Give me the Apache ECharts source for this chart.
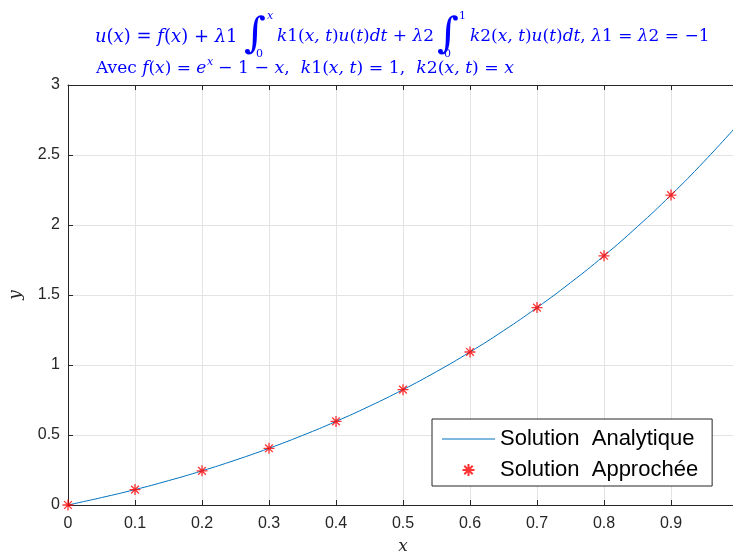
<!DOCTYPE html>
<html><head><meta charset="utf-8">
<script src="https://cdn.jsdelivr.net/npm/echarts@6/dist/echarts.min.js"></script>
<style>html,body{margin:0;padding:0;background:#fff}#c{width:733px;height:553px}</style>
</head><body><div id="c"></div>
<script>
// Data
const lineX = [0,0.05,0.1,0.15,0.2,0.25,0.3,0.35,0.4,0.45,0.5,0.55,0.6,0.65,0.7,0.75,0.8,0.85,0.9,0.95,1.0];
const lineY = [0,0.053,0.110,0.174,0.244,0.321,0.405,0.497,0.597,0.706,0.824,0.953,1.093,1.245,1.410,1.588,1.780,1.989,2.214,2.457,2.718];
const ptsX = [0,0.1,0.2,0.3,0.4,0.5,0.6,0.7,0.8,0.9];
const ptsY = [0,0.110,0.244,0.405,0.597,0.824,1.093,1.410,1.780,2.214];
const seriesNames = ['Solution  Analytique','Solution  Approchée'];

const BLUE = '#0000ff';
const SERIF = '"DejaVu Serif","Liberation Serif",serif';
function mkRich(fs){
  return {
    i:{fontFamily:SERIF,fontStyle:'italic',fontSize:fs,color:BLUE},
    r:{fontFamily:SERIF,fontStyle:'normal',fontSize:fs,color:BLUE}
  };
}
function plain(x,y,text,size,italic){
  return {type:'text',x:x,y:y,style:{text:text,fill:BLUE,fontFamily:SERIF,fontSize:size,fontStyle:italic?'italic':'normal',verticalAlign:'middle',align:'left'}};
}
function rt(x,y,text,fs){
  fs = fs||17;
  return {type:'text',x:x,y:y,style:{text:text,rich:mkRich(fs),fill:BLUE,fontFamily:SERIF,fontSize:fs,verticalAlign:'middle',align:'left'}};
}
const L1 = 37, L2 = 69;
const graphics = [
  rt(95,L1,'{i|u}{r|(}{i|x}{r|) = }{i|f}{r|(}{i|x}{r|) + }{i|λ}{r|1}',18),
  plain(244,36,'∫',42,true),
  plain(267,16,'x',11,true),
  plain(256,54,'0',11,false),
  rt(277,L1,'{i|k}{r|1(}{i|x, t}{r|)}{i|u}{r|(}{i|t}{r|)}{i|dt}{r| + }{i|λ}{r|2}'),
  plain(437,36,'∫',42,true),
  plain(459,16,'1',11,false),
  plain(444,54,'0',11,false),
  rt(470,L1,'{i|k}{r|2(}{i|x, t}{r|)}{i|u}{r|(}{i|t}{r|)}{i|dt}{r|, }{i|λ}{r|1 = }{i|λ}{r|2 = −1}'),
  rt(96,L2,'{r|Avec }{i|f}{r|(}{i|x}{r|) = }{i|e}'),
  plain(207,62,'x',11,true),
  rt(218,L2,'{r|− 1 − }{i|x}{r|,  }{i|k}{r|1(}{i|x, t}{r|) = 1,  }{i|k}{r|2(}{i|x, t}{r|) = }{i|x}',17.3)
];

const AX = '#262626';
const star = 'path://M0,-10L0,10M-10,0L10,0M-7,-7L7,7M-7,7L7,-7';
const chart = echarts.init(document.getElementById('c'));
chart.setOption({
  animation:false,
  backgroundColor:'#fff',
  grid:{left:68,top:85,width:670,height:420,containLabel:false,outerBoundsMode:'none'},
  graphic:graphics,
  legend:{
    orient:'vertical',left:432,top:419,
    padding:[9,14,5,10],
    backgroundColor:'#fff',borderColor:'#262626',borderWidth:1,
    itemWidth:53,itemHeight:12,itemGap:9,
    textStyle:{fontFamily:'"Liberation Sans",Arial,sans-serif',fontSize:22,color:'#000',lineHeight:22},
    data:[{name:seriesNames[0],icon:'path://M0,0L53,0L53,1.1L0,1.1Z'},{name:seriesNames[1]}]
  },
  xAxis:[{
    type:'value',min:0,max:1,interval:0.1,
    name:'x',nameLocation:'middle',nameGap:33,
    nameTextStyle:{fontFamily:SERIF,fontStyle:'italic',fontSize:17,color:AX},
    axisLine:{show:true,lineStyle:{color:AX,width:1}},
    axisTick:{show:true,inside:true,length:5,lineStyle:{color:AX}},
    axisLabel:{fontFamily:'"Liberation Sans",Arial,sans-serif',fontSize:16,color:AX,margin:11,
      formatter:v=>v>=1?'':String(v)},
    splitLine:{show:true,lineStyle:{color:'#e3e3e3',width:1}}
  },{
    type:'value',min:0,max:1,interval:0.1,position:'top',
    axisLine:{show:true,onZero:false,lineStyle:{color:AX,width:1}},
    axisTick:{show:true,inside:true,length:5,lineStyle:{color:AX}},
    axisLabel:{show:false},splitLine:{show:false}
  }],
  yAxis:[{
    type:'value',min:0,max:3,interval:0.5,
    name:'y',nameLocation:'middle',nameGap:44,
    nameTextStyle:{fontFamily:SERIF,fontStyle:'italic',fontSize:17,color:AX},
    axisLine:{show:true,lineStyle:{color:AX,width:1}},
    axisTick:{show:true,inside:true,length:5,lineStyle:{color:AX}},
    axisLabel:{fontFamily:'"Liberation Sans",Arial,sans-serif',fontSize:16,color:AX,margin:8},
    splitLine:{show:true,lineStyle:{color:'#e3e3e3',width:1}}
  },{
    type:'value',min:0,max:3,interval:0.5,position:'right',
    axisLine:{show:true,onZero:false,lineStyle:{color:AX}},
    axisTick:{show:true,inside:true,length:5},axisLabel:{show:false},splitLine:{show:false}
  }],
  series:[{
    name:seriesNames[0],type:'line',symbol:'none',smooth:true,
    lineStyle:{color:'#0072BD',width:1},itemStyle:{color:'#0072BD'},
    data:lineX.map((x,i)=>[x,lineY[i]]),z:2
  },{
    name:seriesNames[1],type:'scatter',symbol:star,symbolSize:11,
    itemStyle:{color:'#ff0000',borderColor:'#ff0000',borderWidth:1.3},
    data:ptsX.map((x,i)=>[x,ptsY[i]]),z:3
  }]
});
</script></body></html>
